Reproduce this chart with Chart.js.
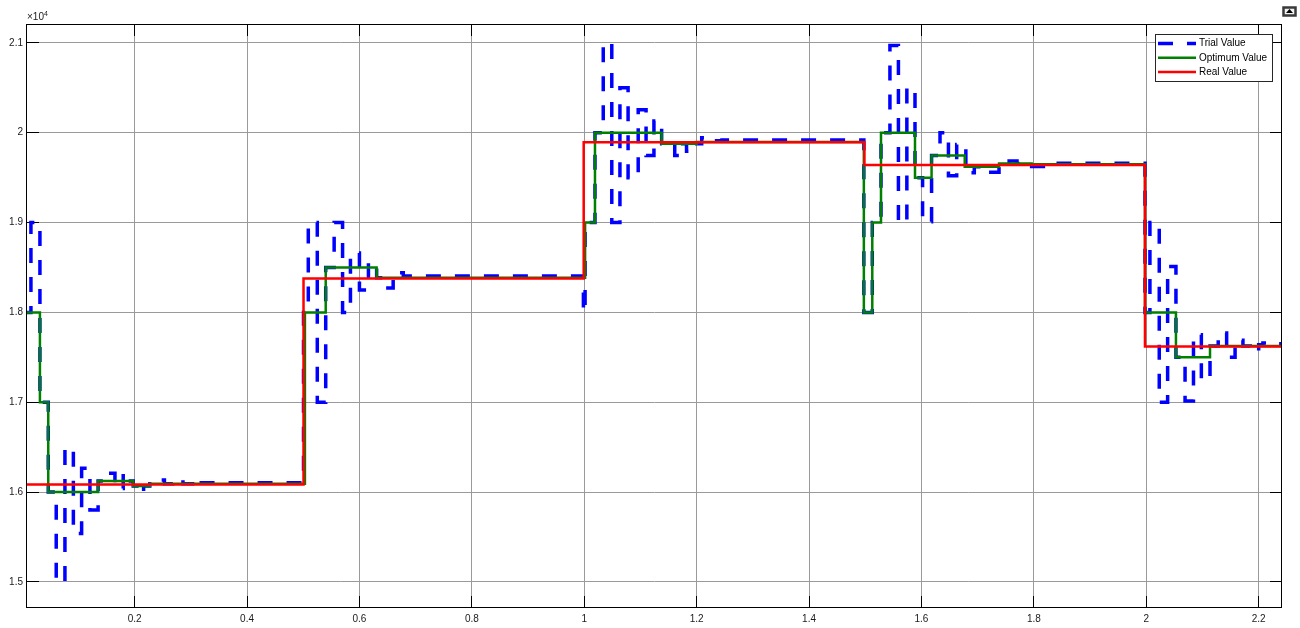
<!DOCTYPE html>
<html>
<head>
<meta charset="utf-8">
<script src="https://cdn.jsdelivr.net/npm/chart.js@4.4.1/dist/chart.umd.min.js"></script>
<style>
  html, body { margin: 0; padding: 0; background: #fff; }
  canvas { display: block; }
</style>
</head>
<body>
<canvas id="scope" width="1300" height="628"></canvas>
<script>
// Tick positions
const xTicks = [0.2, 0.4, 0.6, 0.8, 1.0, 1.2, 1.4, 1.6, 1.8, 2.0, 2.2];
const yTicks = [15000, 16000, 17000, 18000, 19000, 20000, 21000];

// Trial value: step series (value holds from each time until the next one)
const trialT = [0, 0.0155, 0.0315, 0.0463, 0.0605, 0.0760, 0.0910, 0.1057, 0.1205, 0.1350,
  0.1500, 0.1650, 0.1797, 0.1870, 0.1975, 0.2094, 0.2160, 0.2270, 0.2420, 0.2530,
  0.2680, 0.2860, 0.3070, 0.3140,
  0.5005, 0.5090, 0.5250, 0.5400, 0.5550, 0.5700, 0.5840, 0.6000, 0.6160, 0.6306,
  0.6420, 0.6600, 0.6680, 0.6780,
  0.9985, 1.0015, 1.0191, 1.0338, 1.0490, 1.0635, 1.0780, 1.0960, 1.1100, 1.1240,
  1.1377, 1.1610, 1.1700, 1.1820, 1.1900, 1.2090, 1.2290, 1.2450,
  1.4975, 1.5125, 1.5280, 1.5439, 1.5590, 1.5740, 1.5885, 1.6020, 1.6180, 1.6330,
  1.6480, 1.6627, 1.6790, 1.6940, 1.7080, 1.7380, 1.7560, 1.7700, 1.7960, 1.8170,
  1.9977, 2.0065, 2.0231, 2.0380, 2.0528, 2.0690, 2.0840, 2.0980, 2.1134, 2.1280,
  2.1430, 2.1580, 2.1720, 2.1850, 2.2000, 2.2075, 2.2225, 2.2415];
const trialV = [18000, 19000, 17000, 16000, 15000, 16490, 15540, 16265, 15800, 16123,
  16210, 16040, 16210, 16123, 16067, 15990, 16067, 16093, 16135, 16093,
  16135, 16093, 16050, 16105,
  18000, 19000, 17000, 18500, 19000, 18000, 18660, 18250, 18550, 18385,
  18272, 18385, 18440, 18405,
  18000, 19000, 20000, 21000, 19000, 20500, 19500, 20255, 19745, 20130,
  19878, 19745, 19878, 19795, 19878, 19945, 19910, 19918,
  18000, 19000, 20000, 20970, 19000, 20500, 19500, 19010, 19747, 20000,
  19520, 19870, 19555, 19621, 19560, 19658, 19684, 19658, 19625, 19660,
  18000, 19000, 17000, 18510, 17502, 17015, 17750, 17250, 17625, 17770,
  17500, 17690, 17625, 17565, 17640, 17660, 17650, 17650];

// Optimum value
const optT = [0, 0.0315, 0.0463, 0.1350, 0.1975, 0.2270,
  0.5030, 0.5400, 0.6306,
  1.0015, 1.0191, 1.1377, 1.2000,
  1.4975, 1.5125, 1.5280, 1.5885, 1.6180, 1.6770, 1.7380, 1.7960,
  1.9977, 2.0528, 2.1134, 2.2415];
const optV = [18000, 17000, 16000, 16123, 16067, 16093,
  18000, 18500, 18385,
  19000, 20000, 19878, 19897,
  18000, 19000, 20000, 19500, 19747, 19621, 19658, 19648,
  18000, 17502, 17625, 17625];

// Real value
const realT = [0, 0.5005, 0.9990, 1.4985, 1.9977, 2.2415];
const realV = [16085, 18376, 19895, 19640, 17621, 17621];

const toPoints = (t, v) => t.map((ti, i) => ({ x: ti, y: v[i] }));

const FONT = "Arial, 'Liberation Sans', Helvetica, sans-serif";
const fmt = v => String(+v.toFixed(2));

// Box, inner tick marks, legend and exponent label
const scopeFrame = {
  id: 'scopeFrame',
  beforeDatasetsDraw(chart) {
    const { ctx, chartArea: a, scales: { x, y } } = chart;
    const len = 12;
    const al = p => Math.round(p - 0.5) + 0.5;
    ctx.save();
    ctx.strokeStyle = '#000';
    ctx.lineWidth = 1;
    ctx.beginPath();
    x.ticks.forEach(t => {
      const px = al(x.getPixelForValue(t.value));
      ctx.moveTo(px, a.bottom); ctx.lineTo(px, a.bottom - len);
      ctx.moveTo(px, a.top); ctx.lineTo(px, a.top + len);
    });
    y.ticks.forEach(t => {
      const py = al(y.getPixelForValue(t.value));
      ctx.moveTo(a.left, py); ctx.lineTo(a.left + len, py);
      ctx.moveTo(a.right, py); ctx.lineTo(a.right - len, py);
    });
    ctx.stroke();
    ctx.restore();
  },
  afterDatasetsDraw(chart) {
    const { ctx, chartArea: a } = chart;
    ctx.save();
    ctx.strokeStyle = '#000';
    ctx.lineWidth = 1;
    ctx.strokeRect(a.left - 0.5, a.top + 0.5, a.right - a.left, a.bottom - a.top - 1);
    ctx.restore();
  },
  afterDraw(chart) {
    const { ctx, chartArea: a } = chart;
    ctx.save();

    // exponent label
    ctx.fillStyle = '#1a1a1a';
    ctx.textBaseline = 'alphabetic';
    ctx.textAlign = 'left';
    ctx.font = '10px ' + FONT;
    ctx.fillText('\u00d710', a.left, a.top - 4);
    const w = ctx.measureText('\u00d710').width;
    ctx.font = '7px ' + FONT;
    ctx.fillText('4', a.left + w, a.top - 8);

    // legend
    const lx = a.right - 127, ly = a.top + 10, lw = 117, lh = 47;
    ctx.fillStyle = '#fff';
    ctx.fillRect(lx, ly, lw, lh);
    ctx.strokeStyle = '#262626';
    ctx.lineWidth = 1;
    ctx.strokeRect(lx + 0.5, ly + 0.5, lw, lh);
    ctx.font = '10px ' + FONT;
    ctx.textBaseline = 'middle';
    chart.data.datasets.forEach((ds, i) => {
      const cy = ly + 9.5 + i * 14.3;
      ctx.beginPath();
      ctx.strokeStyle = ds.borderColor;
      ctx.lineWidth = ds.borderWidth;
      ctx.setLineDash(ds.borderDash || []);
      ctx.moveTo(lx + 3, cy);
      ctx.lineTo(lx + 41, cy);
      ctx.stroke();
      ctx.setLineDash([]);
      ctx.fillStyle = '#000';
      ctx.fillText(ds.label, lx + 44, cy);
    });

    // figure-window button in the corner
    const bx = 1283.5, by = 7.5;
    ctx.fillStyle = '#f2f2f2';
    ctx.fillRect(bx, by, 12, 8);
    ctx.strokeStyle = '#3a3a3a';
    ctx.strokeRect(bx, by, 12, 8);
    ctx.fillStyle = '#000';
    ctx.beginPath();
    ctx.moveTo(bx + 6, by + 1.5);
    ctx.lineTo(bx + 9.5, by + 5.5);
    ctx.lineTo(bx + 2.5, by + 5.5);
    ctx.closePath();
    ctx.fill();
    ctx.restore();
  }
};

new Chart(document.getElementById('scope'), {
  type: 'line',
  data: {
    datasets: [
      {
        label: 'Trial Value',
        data: toPoints(trialT, trialV),
        borderColor: '#0000ff',
        borderWidth: 3.5,
        borderDash: [15, 14],
        stepped: true,
        order: 3
      },
      {
        label: 'Optimum Value',
        data: toPoints(optT, optV),
        borderColor: '#008000',
        borderWidth: 2.5,
        stepped: true,
        order: 2
      },
      {
        label: 'Real Value',
        data: toPoints(realT, realV),
        borderColor: '#ff0000',
        borderWidth: 2.5,
        stepped: true,
        order: 1
      }
    ]
  },
  options: {
    responsive: false,
    animation: false,
    devicePixelRatio: 1,
    events: [],
    layout: { padding: { left: 0, right: 18, top: 24, bottom: 0 } },
    elements: {
      point: { radius: 0 },
      line: { tension: 0, fill: false, borderCapStyle: 'butt', borderJoinStyle: 'miter' }
    },
    datasets: { line: { clip: 0 } },
    plugins: { legend: { display: false }, tooltip: { enabled: false } },
    scales: {
      x: {
        type: 'linear',
        min: 0.0085,
        max: 2.2415,
        afterBuildTicks: s => { s.ticks = xTicks.map(v => ({ value: v })); },
        afterFit: s => { s.height = 20; },
        grid: { color: '#9a9a9a', lineWidth: 1, drawTicks: false },
        border: { display: false },
        ticks: {
          autoSkip: false, maxRotation: 0, padding: 5,
          color: '#1a1a1a', font: { family: FONT, size: 10 },
          callback: v => fmt(v)
        }
      },
      y: {
        type: 'linear',
        min: 14710,
        max: 21210,
        afterBuildTicks: s => { s.ticks = yTicks.map(v => ({ value: v })); },
        afterFit: s => { s.width = 27; },
        grid: { color: '#9a9a9a', lineWidth: 1, drawTicks: false },
        border: { display: false },
        ticks: {
          autoSkip: false, padding: 4,
          color: '#1a1a1a', font: { family: FONT, size: 10 },
          callback: v => fmt(v / 10000)
        }
      }
    }
  },
  plugins: [scopeFrame]
});
</script>
</body>
</html>
